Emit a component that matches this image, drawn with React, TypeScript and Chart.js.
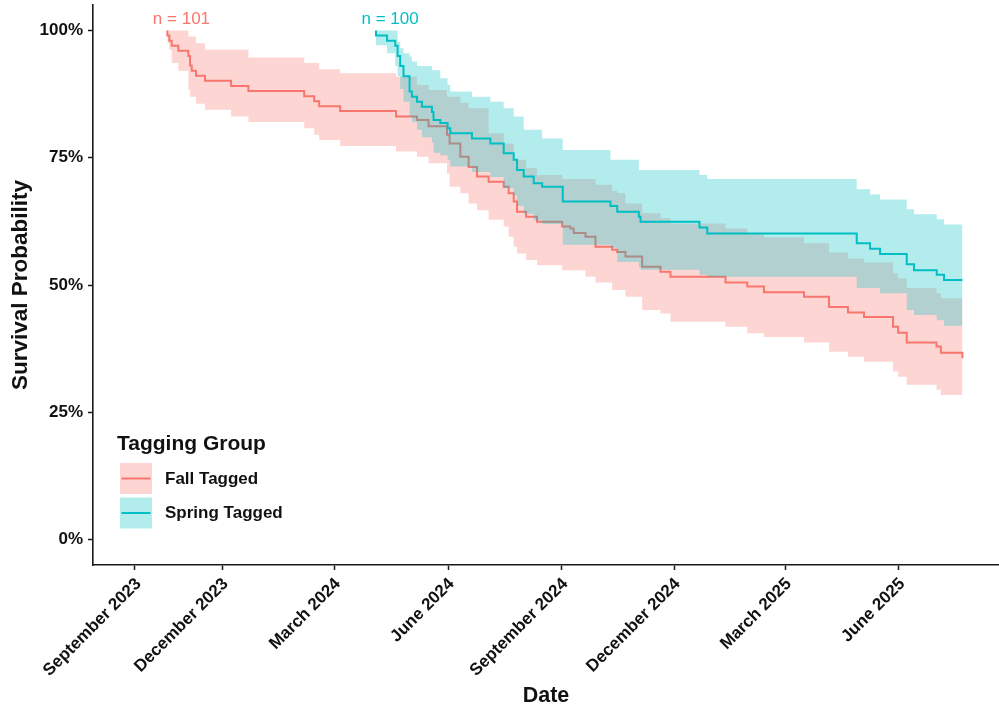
import React, { useEffect, useRef } from "react";
import { Chart, registerables } from "chart.js";

Chart.register(...registerables);

const FONT = "'Liberation Sans', Arial, Helvetica, sans-serif";
const TEXT = "#111111";
const AXIS = "#1a1a1a";
const FALL_COLOR = "#F8766D";
const SPRING_COLOR = "#00BFC4";
const FALL_FILL = "rgba(248, 118, 109, 0.3)";
const SPRING_FILL = "rgba(0, 191, 196, 0.3)";

// x values are days counted from 1 September 2023
const X_MIN = -13.5;
const X_MAX = 720;
const TICK_DAYS = [20.5, 91, 182, 274, 366, 457, 547, 639];
const TICK_LABELS = [
  "September 2023",
  "December 2023",
  "March 2024",
  "June 2024",
  "September 2024",
  "December 2024",
  "March 2025",
  "June 2025",
];
const Y_TICKS = [0, 0.25, 0.5, 0.75, 1];

const GROUPS = ["Fall Tagged", "Spring Tagged"];

// Kaplan-Meier estimate with 95% band, fall-tagged fish
const FALL_N = 101;
const FALL_DAYS = [
  46.7, 46.7, 48.3, 50.2, 55.6, 63.7, 65.1, 66.4, 69.9, 77.2, 98.3, 112.3,
  157.5, 165.6, 169.6, 186.6, 231.8, 248.8, 258.2, 273.1, 275.2, 283.9, 290.6,
  297.4, 306.8, 319, 323, 327.1, 329.8, 337.1, 346, 366.3, 373, 375.7, 385.2,
  393.3, 406.8, 410.9, 417.6, 431.1, 445.9, 454, 498.6, 516.2, 529.7, 562.1,
  582.4, 597.7, 610.7, 634.2, 638.3, 645.3, 669.4, 672.9, 690.4,
];
const FALL_SURV = [
  1.0, 0.99, 0.98, 0.97, 0.96, 0.95, 0.931, 0.921, 0.911, 0.901, 0.891, 0.881,
  0.871, 0.861, 0.851, 0.842, 0.831, 0.824, 0.812, 0.795, 0.778, 0.752, 0.732,
  0.713, 0.703, 0.693, 0.68, 0.664, 0.644, 0.634, 0.624, 0.615, 0.611, 0.602,
  0.595, 0.575, 0.569, 0.565, 0.556, 0.536, 0.526, 0.516, 0.505, 0.497, 0.486,
  0.477, 0.457, 0.446, 0.437, 0.418, 0.406, 0.387, 0.379, 0.367, 0.356,
];
const FALL_UPPER = [
  1.0, 1.0, 1.0, 1.0, 1.0, 0.988, 0.988, 0.988, 0.975, 0.962, 0.962, 0.947,
  0.936, 0.936, 0.924, 0.916, 0.909, 0.893, 0.883, 0.87, 0.87, 0.858, 0.847,
  0.847, 0.798, 0.778, 0.778, 0.746, 0.746, 0.73, 0.716, 0.708, 0.708, 0.708,
  0.708, 0.697, 0.685, 0.68, 0.66, 0.641, 0.631, 0.621, 0.611, 0.601, 0.594,
  0.582, 0.564, 0.552, 0.544, 0.523, 0.513, 0.494, 0.484, 0.474, 0.464,
];
const FALL_LOWER = [
  1.0, 0.975, 0.962, 0.936, 0.921, 0.883, 0.87, 0.87, 0.856, 0.844, 0.831,
  0.82, 0.808, 0.795, 0.785, 0.773, 0.762, 0.752, 0.739, 0.719, 0.693, 0.68,
  0.66, 0.647, 0.628, 0.615, 0.595, 0.575, 0.562, 0.549, 0.539, 0.529, 0.529,
  0.529, 0.516, 0.505, 0.49, 0.49, 0.477, 0.451, 0.444, 0.428, 0.418, 0.405,
  0.398, 0.387, 0.369, 0.359, 0.349, 0.33, 0.32, 0.304, 0.294, 0.284, 0.274,
];

// Kaplan-Meier estimate with 95% band, spring-tagged fish
const SPRING_N = 100;
const SPRING_DAYS = [
  215.6, 215.6, 224.5, 231.2, 233.1, 235.2, 237.9, 242.8, 244.7, 248.8, 252.8,
  260.9, 262.2, 267.7, 273.6, 275.8, 293.3, 308.2, 319, 327.1, 329.8, 335.2,
  343.3, 350.1, 366.8, 405.4, 410.9, 428.4, 429.8, 477.5, 483.8, 604.8, 615.6,
  623.7, 645.3, 651.2, 669.6, 675.5, 690.4,
];
const SPRING_SURV = [
  1.0, 0.99, 0.98, 0.97, 0.95, 0.93, 0.91, 0.88, 0.87, 0.86, 0.85, 0.84, 0.824,
  0.818, 0.808, 0.798, 0.788, 0.778, 0.759, 0.746, 0.726, 0.713, 0.7, 0.693,
  0.664, 0.655, 0.644, 0.634, 0.624, 0.613, 0.601, 0.582, 0.571, 0.561, 0.541,
  0.529, 0.52, 0.51, 0.51,
];
const SPRING_UPPER = [
  1.0, 1.0, 1.0, 1.0, 0.978, 0.965, 0.955, 0.949, 0.939, 0.93, 0.93, 0.922,
  0.922, 0.906, 0.893, 0.88, 0.87, 0.86, 0.847, 0.831, 0.831, 0.805, 0.805,
  0.788, 0.765, 0.746, 0.746, 0.726, 0.726, 0.716, 0.708, 0.688, 0.678, 0.668,
  0.649, 0.639, 0.629, 0.619, 0.619,
];
const SPRING_LOWER = [
  1.0, 0.971, 0.955, 0.93, 0.91, 0.885, 0.86, 0.83, 0.82, 0.805, 0.79, 0.78,
  0.76, 0.755, 0.745, 0.733, 0.722, 0.712, 0.69, 0.676, 0.655, 0.64, 0.627,
  0.62, 0.579, 0.573, 0.545, 0.535, 0.53, 0.52, 0.516, 0.494, 0.494, 0.484,
  0.451, 0.441, 0.431, 0.42, 0.42,
];

const GROUP_STYLE = [
  { color: FALL_COLOR, fill: FALL_FILL, n: FALL_N, first: FALL_DAYS[0] },
  { color: SPRING_COLOR, fill: SPRING_FILL, n: SPRING_N, first: SPRING_DAYS[0] },
];

function points(days: number[], values: number[]) {
  return days.map((d, i) => ({ x: d, y: values[i] }));
}

function bandDatasets(days: number[], upper: number[], lower: number[], fill: string, order: number) {
  const common = {
    stepped: "before" as const,
    pointRadius: 0,
    borderWidth: 0,
    borderColor: "transparent",
    order,
  };
  return [
    { ...common, label: "upper", data: points(days, upper), backgroundColor: fill, fill: "+1" },
    { ...common, label: "lower", data: points(days, lower), backgroundColor: fill, fill: false },
  ];
}

function curveDataset(label: string, days: number[], surv: number[], color: string, order: number) {
  return {
    label,
    data: points(days, surv),
    stepped: "before" as const,
    pointRadius: 0,
    borderWidth: 2,
    borderColor: color,
    backgroundColor: color,
    fill: false,
    order,
  };
}

// Group sizes over the start of each curve, and the tagging-group key
const annotations = {
  id: "survivalAnnotations",
  afterDraw(chart: any) {
    const { ctx, chartArea, scales } = chart;
    const xs = scales.x;
    const ys = scales.y;
    ctx.save();

    ctx.font = `17px ${FONT}`;
    ctx.textAlign = "center";
    ctx.textBaseline = "middle";
    GROUP_STYLE.forEach((g) => {
      ctx.fillStyle = g.color;
      ctx.fillText(`n = ${g.n}`, xs.getPixelForValue(g.first + 11.4), ys.getPixelForValue(1.021));
    });

    const left = chartArea.left;
    const base = chartArea.bottom;
    ctx.textAlign = "left";
    ctx.textBaseline = "alphabetic";
    ctx.fillStyle = TEXT;
    ctx.font = `bold 21px ${FONT}`;
    ctx.fillText("Tagging Group", left + 24, base - 115);

    GROUPS.forEach((name, i) => {
      const top = base - 102 + i * 34.5;
      const g = GROUP_STYLE[i];
      ctx.fillStyle = g.fill;
      ctx.fillRect(left + 27, top, 32, 31);
      ctx.strokeStyle = g.color;
      ctx.lineWidth = 2;
      ctx.beginPath();
      ctx.moveTo(left + 28.5, top + 15.5);
      ctx.lineTo(left + 57.5, top + 15.5);
      ctx.stroke();
      ctx.fillStyle = TEXT;
      ctx.font = `bold 17px ${FONT}`;
      ctx.textBaseline = "middle";
      ctx.fillText(name, left + 72, top + 16);
      ctx.textBaseline = "alphabetic";
    });
    ctx.restore();
  },
};

export default function App() {
  const canvasRef = useRef<HTMLCanvasElement | null>(null);

  useEffect(() => {
    if (!canvasRef.current) return;
    const tickFont = { family: FONT, size: 17, weight: "bold" as const };
    const chart = new Chart(canvasRef.current, {
      type: "line",
      data: {
        datasets: [
          ...bandDatasets(FALL_DAYS, FALL_UPPER, FALL_LOWER, FALL_FILL, 4),
          curveDataset(GROUPS[0], FALL_DAYS, FALL_SURV, FALL_COLOR, 3),
          ...bandDatasets(SPRING_DAYS, SPRING_UPPER, SPRING_LOWER, SPRING_FILL, 2),
          curveDataset(GROUPS[1], SPRING_DAYS, SPRING_SURV, SPRING_COLOR, 1),
        ] as any,
      },
      options: {
        responsive: false,
        animation: false,
        devicePixelRatio: 1,
        layout: { padding: { top: 5, right: 0, bottom: 0, left: 0 } },
        plugins: {
          legend: { display: false },
          tooltip: { enabled: false },
        },
        scales: {
          x: {
            type: "linear",
            min: X_MIN,
            max: X_MAX,
            bounds: "data",
            afterBuildTicks: (scale: any) => {
              scale.ticks = TICK_DAYS.map((v) => ({ value: v }));
            },
            afterFit: (scale: any) => {
              scale.height = 141;
              scale.paddingLeft = 0;
              scale.paddingRight = 0;
            },
            grid: {
              display: true,
              drawOnChartArea: false,
              drawTicks: true,
              tickLength: 5,
              tickWidth: 1.5,
              tickColor: AXIS,
            },
            border: { display: true, color: AXIS, width: 1.6 },
            ticks: {
              autoSkip: false,
              minRotation: 45,
              maxRotation: 45,
              padding: 4,
              labelOffset: 3.5,
              color: TEXT,
              font: tickFont,
              callback: (value: any) => TICK_LABELS[TICK_DAYS.indexOf(Number(value))] ?? "",
            },
            title: {
              display: true,
              text: "Date",
              color: TEXT,
              font: { family: FONT, size: 21.5, weight: "bold", lineHeight: 1 },
              padding: { top: 0, bottom: -0.5 },
            },
          },
          y: {
            type: "linear",
            min: -0.05,
            max: 1.05,
            bounds: "data",
            afterBuildTicks: (scale: any) => {
              scale.ticks = Y_TICKS.map((v) => ({ value: v }));
            },
            afterFit: (scale: any) => {
              scale.width = 93;
              scale.paddingTop = 0;
              scale.paddingBottom = 0;
            },
            grid: {
              display: true,
              drawOnChartArea: false,
              drawTicks: true,
              tickLength: 5,
              tickWidth: 1.5,
              tickColor: AXIS,
            },
            border: { display: true, color: AXIS, width: 1.6 },
            ticks: {
              padding: 5,
              color: TEXT,
              font: tickFont,
              callback: (value: any) => `${Math.round(Number(value) * 100)}%`,
            },
            title: {
              display: true,
              text: "Survival Probability",
              color: TEXT,
              font: { family: FONT, size: 22.5, weight: "bold" },
              padding: { top: 7, bottom: 0 },
            },
          },
        },
      },
      plugins: [annotations],
    });
    return () => chart.destroy();
  }, []);

  return (
    <div style={{ position: "absolute", left: 0, top: 0, width: 999, height: 706, background: "#ffffff" }}>
      <canvas ref={canvasRef} width={999} height={706} />
    </div>
  );
}
